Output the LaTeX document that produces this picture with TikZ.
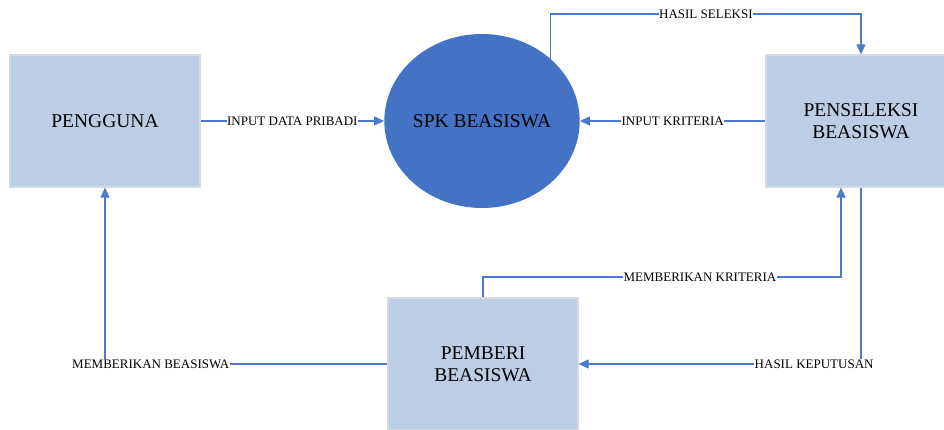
\documentclass[tikz,border=0pt]{standalone}
\usepackage{fontspec}
\setmainfont{Liberation Serif}
\usetikzlibrary{arrows.meta,shapes.geometric}
\definecolor{boxfill}{RGB}{187,206,230}
\definecolor{boxline}{RGB}{214,218,224}
\definecolor{spkblue}{RGB}{68,114,196}
\definecolor{lineblue}{RGB}{74,122,206}
\tikzset{
  entity/.style={draw=boxline, line width=1.2pt, fill=boxfill, minimum width=190pt, minimum height=132pt,
    inner sep=0pt, align=center, font=\fontsize{19.5}{22}\selectfont},
  process/.style={ellipse, fill=spkblue, minimum width=188pt, minimum height=174pt, inner sep=0pt,
    font=\fontsize{19.5}{22}\selectfont},
  conn/.style={draw=lineblue, line width=1.1pt, -{Triangle[length=10pt,width=9pt]}},
  lbl/.style={fill=white, inner sep=0.5pt, font=\fontsize{13}{14}\selectfont, text=black}
}
\begin{document}
\begin{tikzpicture}[x=1pt,y=-1pt]
\useasboundingbox (0,0) rectangle (944,430);
\clip (0,0) rectangle (944,430);
\node[entity] (pengguna) at (105,121) {PENGGUNA};
\node[process] (spk) at (482,121) {SPK BEASISWA};
\node[entity] (penseleksi) at (861,121) {PENSELEKSI\\BEASISWA};
\node[entity] (pemberi) at (483,364) {PEMBERI\\BEASISWA};
\coordinate (hs) at (861,14);
\coordinate (mk) at (841,277);
\draw[conn] (pengguna.east) -- node[lbl]{INPUT DATA PRIBADI} (spk.west);
\draw[conn] (penseleksi.west) -- node[lbl]{INPUT KRITERIA} (spk.east);
\draw[conn] (spk.42) |- node[lbl,pos=0.75]{HASIL SELEKSI} (hs) -- (penseleksi.north);
\draw[conn] (pemberi.north) |- node[lbl,pos=0.803]{MEMBERIKAN KRITERIA} (mk) -- (mk |- penseleksi.south);
\draw[conn] (penseleksi.south) |- node[lbl,pos=0.583]{HASIL KEPUTUSAN} (pemberi.east);
\draw[conn] (pemberi.west) -| node[lbl,pos=0.419]{MEMBERIKAN BEASISWA} (pengguna.south);
\end{tikzpicture}
\end{document}
